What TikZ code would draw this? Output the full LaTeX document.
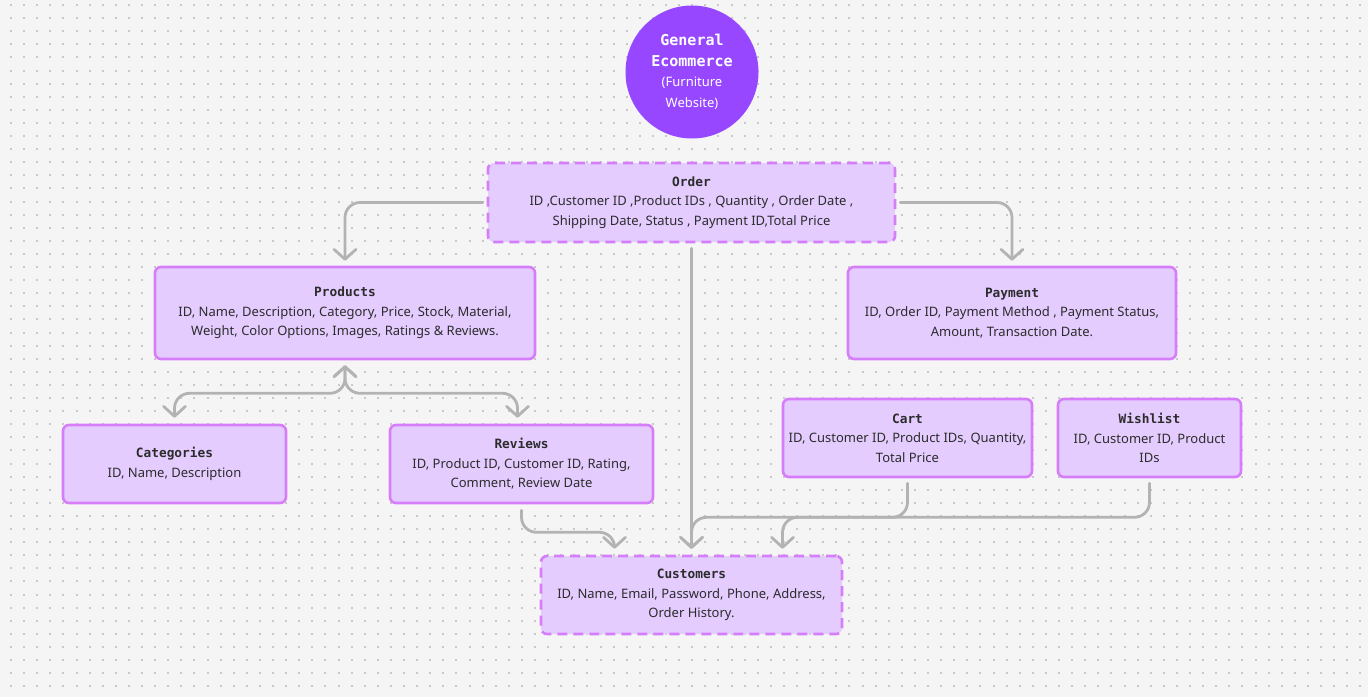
\documentclass[tikz,border=0pt]{standalone}
\usepackage{fontspec}
\setmainfont{Noto Sans}
\setmonofont{DejaVu Sans Mono}
\usetikzlibrary{shapes,arrows.meta,positioning,calc}

\definecolor{canvas}{HTML}{F5F5F5}
\definecolor{griddot}{HTML}{C8C8C8}
\definecolor{boxfill}{HTML}{E4CCFF}
\definecolor{boxline}{HTML}{D67EFA}
\definecolor{hubfill}{HTML}{9747FF}
\definecolor{linkgray}{HTML}{B3B3B3}
\definecolor{inktext}{HTML}{2C2C2C}

\newcommand{\boxtitle}[1]{{\ttfamily\bfseries\fontsize{12.8}{19.5}\selectfont #1}}
\newcommand{\hubtitle}[1]{{\ttfamily\bfseries\fontsize{15}{23}\selectfont #1}}

\begin{document}
\begin{tikzpicture}[
    x=1pt, y=-1pt,
    entity/.style={rectangle, draw=boxline, fill=boxfill, line width=2.6pt, rounded corners=6pt,
        align=center, text=inktext, font=\fontsize{13}{19.5}\selectfont, inner sep=0pt},
    dashedentity/.style={entity, dash pattern=on 10pt off 6pt},
    hub/.style={circle, fill=hubfill, text=white, minimum size=133pt, inner sep=0pt, align=center,
        font=\fontsize{13}{20.5}\selectfont},
    link/.style={draw=linkgray, line width=2.8pt, line cap=round, rounded corners=15pt,
        -{Straight Barb[length=10pt,width=22pt,round]}},
    bilink/.style={link, {Straight Barb[length=10pt,width=22pt,round]}-{Straight Barb[length=10pt,width=22pt,round]}}
]

% canvas and dot grid
\fill[canvas] (0,0) rectangle (1368,697);
\useasboundingbox (0,0) rectangle (1368,697);
\foreach \i in {0,...,104}
  \foreach \j in {0,...,53}
    \fill[griddot] (10+13.1*\i, 4+13.1*\j) rectangle ++(2,2);

% main circle
\node[hub] (hub) at (692,72) {\hubtitle{General}\\\hubtitle{Ecommerce}\\(Furniture\\Website)};

% entities
\node[dashedentity, minimum width=407pt, minimum height=79pt] (order) at (691.5,202.5)
    {\boxtitle{Order}\\ID ,Customer ID ,Product IDs , Quantity , Order Date ,\\Shipping Date, Status , Payment ID,Total Price};
\node[entity, minimum width=380pt, minimum height=92pt] (products) at (345,313)
    {\boxtitle{Products}\\ID, Name, Description, Category, Price, Stock, Material,\\Weight, Color Options, Images, Ratings \& Reviews.};
\node[entity, minimum width=328pt, minimum height=92pt] (payment) at (1012,313)
    {\boxtitle{Payment}\\ID, Order ID, Payment Method , Payment Status,\\Amount, Transaction Date.};
\node[entity, minimum width=223pt, minimum height=78pt] (categories) at (174.5,464)
    {\boxtitle{Categories}\\ID, Name, Description};
\node[entity, minimum width=263pt, minimum height=78pt] (reviews) at (521.5,464)
    {\boxtitle{Reviews}\\ID, Product ID, Customer ID, Rating,\\Comment, Review Date};
\node[entity, minimum width=249pt, minimum height=78pt] (cart) at (907.5,438)
    {\boxtitle{Cart}\\ID, Customer ID, Product IDs, Quantity,\\Total Price};
\node[entity, minimum width=183pt, minimum height=78pt] (wishlist) at (1149.5,438)
    {\boxtitle{Wishlist}\\ID, Customer ID, Product\\IDs};
\node[dashedentity, minimum width=301pt, minimum height=78pt] (customers) at (691.5,595)
    {\boxtitle{Customers}\\ID, Name, Email, Password, Phone, Address,\\Order History.};

% connectors
\draw[link] ([xshift=-4pt]order.west) -| ([yshift=5pt]products.north);
\draw[link] ([xshift=4pt]order.east) -| ([yshift=5pt]payment.north);
\draw[link] ([yshift=-5pt]order.south) -- ([yshift=6pt]customers.north);
\draw[bilink] ([yshift=-5pt]products.south) -- ++(0,28) -| ([yshift=6pt]categories.north);
\draw[bilink] ([yshift=-5pt]products.south) -- ++(0,28) -| ([xshift=-4pt,yshift=6pt]reviews.north);
\draw[link] ([yshift=-6pt]reviews.south) -- ++(0,22) -| ([xshift=-77pt,yshift=6pt]customers.north);
\draw[link] ([yshift=-5pt]cart.south) -- ++(0,34) -| ([yshift=6pt]customers.north);
\draw[link] ([yshift=-5pt]wishlist.south) -- ++(0,34) -| ([xshift=91pt,yshift=6pt]customers.north);

\end{tikzpicture}
\end{document}
